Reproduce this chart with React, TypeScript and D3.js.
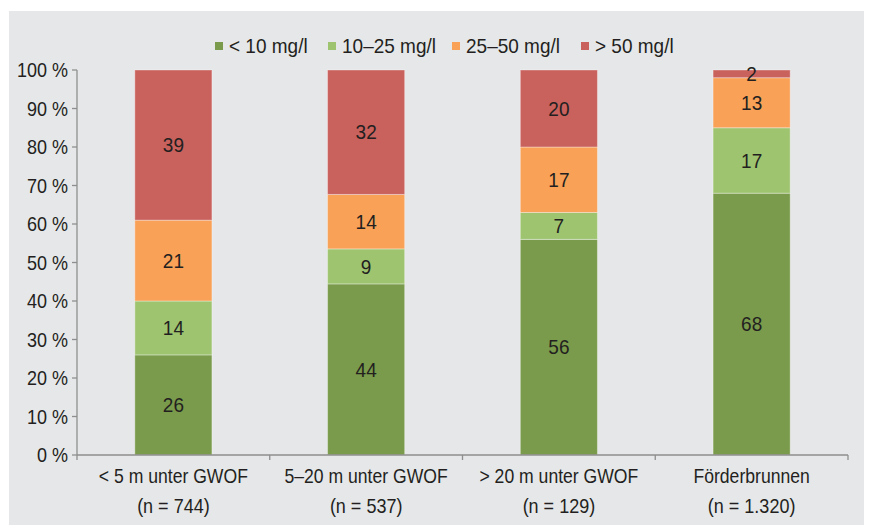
import React from "react";
import * as d3 from "d3";

const categories = ["< 5 m unter GWOF", "5–20 m unter GWOF", "> 20 m unter GWOF", "Förderbrunnen"];
const sampleLabels = ["(n = 744)", "(n = 537)", "(n = 129)", "(n = 1.320)"];
const seriesNames = ["< 10 mg/l", "10–25 mg/l", "25–50 mg/l", "> 50 mg/l"];
const under10 = [26, 44, 56, 68];
const from10to25 = [14, 9, 7, 17];
const from25to50 = [21, 14, 17, 13];
const over50 = [39, 32, 20, 2];
const yTicks = [0, 10, 20, 30, 40, 50, 60, 70, 80, 90, 100];
const colors = ["#7a9b4b", "#9ec470", "#f8a157", "#c9615d"];

const FONT = "'Liberation Sans', Arial, sans-serif";
const TEXT = "#231f20";

function T(props: { x: number; y: number; sx: number; anchor?: string; dy?: string; size?: number; children: any }) {
  return (
    <text
      transform={`translate(${props.x},${props.y}) scale(${props.sx},1)`}
      textAnchor={props.anchor || "start"}
      dy={props.dy}
      fontSize={props.size || 20}
      fill={TEXT}
    >
      {props.children}
    </text>
  );
}

export default function App() {
  const W = 869, H = 525;
  const keys = ["a", "b", "c", "d"];
  const rows = categories.map((c, i) => ({
    cat: c,
    a: under10[i],
    b: from10to25[i],
    c: from25to50[i],
    d: over50[i],
  }));
  const stack = d3.stack<any>().keys(keys).offset(d3.stackOffsetExpand);
  const series = stack(rows);

  const x = d3.scaleBand<string>().domain(categories).range([77, 848]).paddingInner(0.6).paddingOuter(0.3);
  const step = x.step();
  const y = d3.scaleLinear().domain([0, 1]).range([455, 70]);
  const yPct = d3.scaleLinear().domain([0, 100]).range([455, 70]);

  const legendX = [215, 328, 452, 581];
  const values = [under10, from10to25, from25to50, over50];

  return (
    <svg width={W} height={H} style={{ position: "absolute", left: 0, top: 0 }} fontFamily={FONT}>
      <rect x={0} y={0} width={W} height={H} fill="#ffffff" />
      <rect x={9} y={11} width={855} height={514} fill="#e6e7e9" />

      {/* legend */}
      {seriesNames.map((n, i) => (
        <g key={n}>
          <rect x={legendX[i]} y={42} width={8} height={8} fill={colors[i]} />
          <T x={legendX[i] + 14} y={53} sx={0.95}>{n}</T>
        </g>
      ))}

      {/* bars */}
      {series.map((s, si) => (
        <g key={si}>
          {s.map((d, i) => {
            const x0 = x(categories[i])!;
            const yTop = y(d[1]);
            const yBot = y(d[0]);
            return (
              <g key={i}>
                <rect x={x0} y={yTop} width={x.bandwidth()} height={yBot - yTop} fill={colors[si]}
                  stroke="rgba(255,255,255,0.35)" strokeWidth={1} />
                <T x={x0 + x.bandwidth() / 2} y={(yTop + yBot) / 2} dy="0.36em" anchor="middle" sx={0.95}>
                  {values[si][i]}
                </T>
              </g>
            );
          })}
        </g>
      ))}

      {/* y axis */}
      <line x1={77} x2={77} y1={70} y2={455} stroke="#8e8e8e" strokeWidth={1.3} />
      {yTicks.map((t) => (
        <g key={t}>
          <line x1={72} x2={77} y1={yPct(t)} y2={yPct(t)} stroke="#8e8e8e" strokeWidth={1.3} />
          <T x={68} y={yPct(t)} dy="0.36em" anchor="end" sx={0.9}>{t} %</T>
        </g>
      ))}

      {/* x axis */}
      <line x1={77} x2={848} y1={455} y2={455} stroke="#8e8e8e" strokeWidth={1.3} />
      {d3.range(categories.length + 1).map((i) => (
        <line key={i} x1={77 + i * step} x2={77 + i * step} y1={455} y2={460} stroke="#8e8e8e" strokeWidth={1.3} />
      ))}
      {categories.map((c, i) => {
        const cx = x(c)! + x.bandwidth() / 2;
        return (
          <g key={c}>
            <T x={cx} y={482.5} anchor="middle" sx={0.88}>{c}</T>
            <T x={cx} y={512.5} anchor="middle" sx={0.9}>{sampleLabels[i]}</T>
          </g>
        );
      })}
    </svg>
  );
}
